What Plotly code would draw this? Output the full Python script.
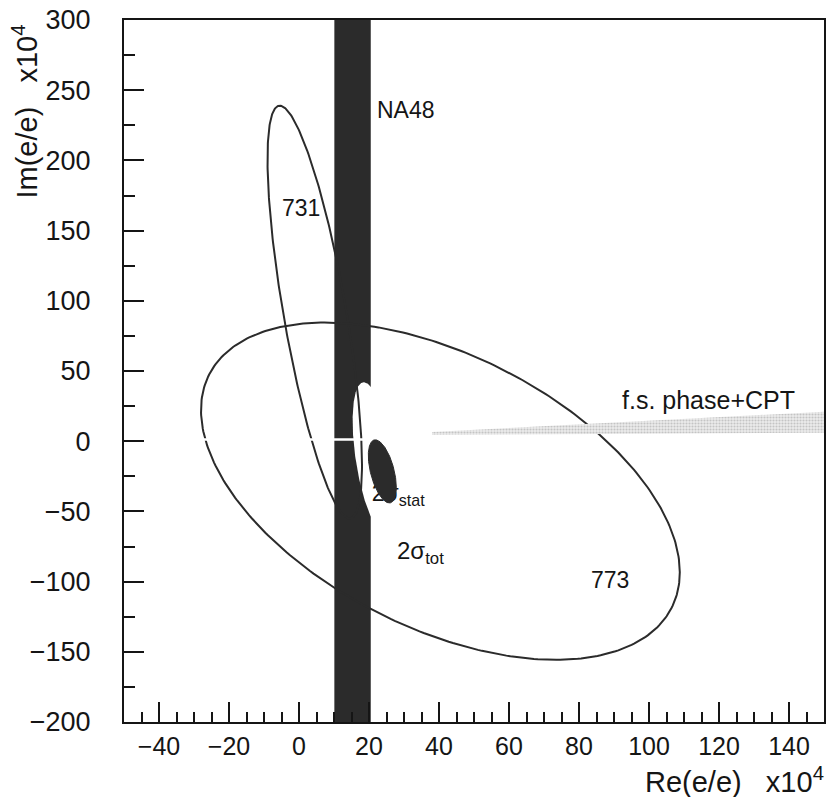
import numpy as np
import plotly.graph_objects as go

# ---- axis ranges and ticks (units of 1e-4) ----
X_RANGE = [-50, 150]
Y_RANGE = [-200, 300]

# ---- NA48 measurement of Re(e'/e): central value and 1 sigma ----
na48_center = 15.3
na48_sigma = 2.6

# ---- error ellipses: centre, widths and correlation ----
ell_names = ["731", "773"]
ell_cx = [4.5, 40.4]
ell_cy = [92.0, -35.6]
ell_sx = [13.5, 68.4]
ell_sy = [147.0, 120.1]
ell_rho = [-0.74, -0.481]

# combined result, total error (2 sigma) and statistical error (2 sigma)
tot_c = [21.5, -11.5]
tot_s = [6.18, 53.5]
tot_rho = -0.485
stat_c = [23.8, -21.5]
stat_s = [4.0, 22.5]
stat_rho = -0.5

# final-state phase + CPT constraint (band edges)
phase_x = [38, 150]
phase_lo = [4.5, 6.0]
phase_hi = [6.5, 21.0]
phase_line_y = 1.2

DARK = "#2b2b2b"
INK = "#151515"
FONT = "Liberation Sans, Arial, sans-serif"


def ellipse(cx, cy, sx, sy, rho, n=361):
    t = np.linspace(0, 2 * np.pi, n)
    x = cx + sx * np.cos(t)
    y = cy + sy * (rho * np.cos(t) + np.sqrt(1 - rho ** 2) * np.sin(t))
    return x, y


fig = go.Figure()

# NA48 2-sigma band
b_lo = na48_center - 2 * na48_sigma
b_hi = na48_center + 2 * na48_sigma
fig.add_trace(go.Scatter(
    x=[b_lo, b_hi, b_hi, b_lo, b_lo],
    y=[Y_RANGE[0], Y_RANGE[0], Y_RANGE[1], Y_RANGE[1], Y_RANGE[0]],
    mode="lines", fill="toself", fillcolor=DARK, line=dict(width=0),
    hoverinfo="skip", showlegend=False))

# total-error region, cut out in white
tx, ty = ellipse(tot_c[0], tot_c[1], tot_s[0], tot_s[1], tot_rho)
fig.add_trace(go.Scatter(
    x=tx, y=ty, mode="lines", fill="toself", fillcolor="white",
    line=dict(width=0), hoverinfo="skip", showlegend=False))

# E731 and E773 contours
for i, name in enumerate(ell_names):
    ex, ey = ellipse(ell_cx[i], ell_cy[i], ell_sx[i], ell_sy[i], ell_rho[i])
    fig.add_trace(go.Scatter(
        x=ex, y=ey, mode="lines", line=dict(color=DARK, width=2),
        name=name, showlegend=False))

# phase + CPT band
fig.add_trace(go.Scatter(
    x=phase_x + phase_x[::-1] + [phase_x[0]],
    y=phase_lo + phase_hi[::-1] + [phase_lo[0]],
    mode="lines", fill="toself", fillcolor="#e4e4e4",
    fillpattern=dict(shape=".", fgcolor="#9c9c9c", bgcolor="#ececec",
                     size=3, solidity=0.4),
    line=dict(width=0), hoverinfo="skip", showlegend=False))
fig.add_trace(go.Scatter(
    x=[X_RANGE[0], phase_x[0]], y=[phase_line_y, phase_line_y],
    mode="lines", line=dict(color="white", width=2.5),
    hoverinfo="skip", showlegend=False))

# statistical-error label sits underneath the filled ellipse
fig.add_trace(go.Scatter(
    x=[20.8], y=[-38.5], mode="text",
    text=["2σ<sub>stat</sub>"], textposition="middle right",
    textfont=dict(family=FONT, size=23, color=INK),
    hoverinfo="skip", showlegend=False))
sx_, sy_ = ellipse(stat_c[0], stat_c[1], stat_s[0], stat_s[1], stat_rho)
fig.add_trace(go.Scatter(
    x=sx_, y=sy_, mode="lines", fill="toself", fillcolor=DARK,
    line=dict(color=DARK, width=1), hoverinfo="skip", showlegend=False))

labels = [
    ("NA48", 30.6, 235.7, 23),
    ("731", 0.5, 166.0, 23),
    ("773", 88.9, -98.6, 23),
    ("f.s. phase+CPT", 116.9, 29.3, 25),
]
annotations = [dict(x=x, y=y, xref="x", yref="y", text=t, showarrow=False,
                    font=dict(family=FONT, size=s, color=INK))
               for t, x, y, s in labels]
annotations.append(dict(x=27.4, y=-79.3, xref="x", yref="y", xanchor="left",
                        text="2σ<sub>tot</sub>", showarrow=False,
                        font=dict(family=FONT, size=24, color=INK)))
annotations.append(dict(x=1.003, y=-0.083, xref="paper", yref="paper",
                        xanchor="right", yanchor="middle",
                        text="Re(e/e)\u00a0\u00a0\u00a0x10<sup>4</sup>",
                        showarrow=False,
                        font=dict(family=FONT, size=29, color=INK)))
annotations.append(dict(x=-0.141, y=0.870, xref="paper", yref="paper",
                        xanchor="center", yanchor="middle", textangle=-90,
                        text="Im(e/e)\u00a0\u00a0\u00a0x10<sup>4</sup>",
                        showarrow=False,
                        font=dict(family=FONT, size=29, color=INK)))

fig.update_layout(
    width=829, height=797,
    margin=dict(l=124, r=3, t=20, b=75),
    plot_bgcolor="white", paper_bgcolor="white",
    annotations=annotations,
    showlegend=False,
)
fig.update_xaxes(
    range=X_RANGE, tick0=-40, dtick=20, ticks="inside", ticklen=20,
    tickwidth=1.8, tickcolor=INK,
    minor=dict(dtick=5, ticks="inside", ticklen=10, tickwidth=1.8, tickcolor=INK),
    showgrid=False, zeroline=False, showline=True, linecolor=INK, linewidth=2,
    mirror=True, ticklabelstandoff=1,
    tickfont=dict(family=FONT, size=25, color=INK))
fig.update_yaxes(
    range=Y_RANGE, dtick=50, ticks="inside", ticklen=20,
    tickwidth=1.8, tickcolor=INK,
    minor=dict(dtick=25, ticks="inside", ticklen=11, tickwidth=1.8, tickcolor=INK),
    showgrid=False, zeroline=False, showline=True, linecolor=INK, linewidth=2,
    mirror=True, ticklabelstandoff=26,
    tickfont=dict(family=FONT, size=27, color=INK))

fig.write_html("out.html")
